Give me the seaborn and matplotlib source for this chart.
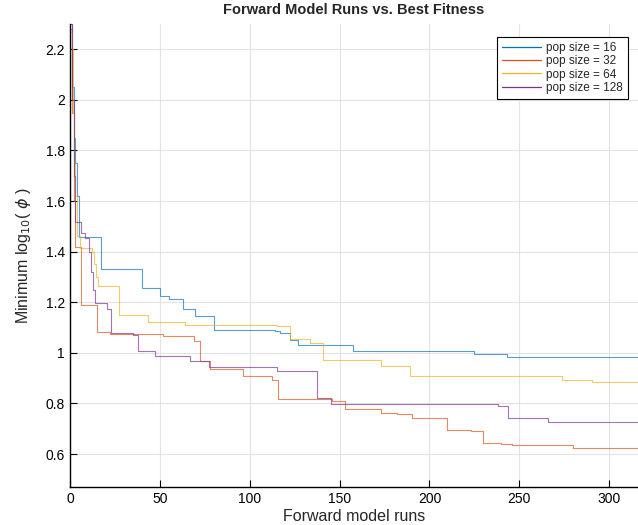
import numpy as np
import pandas as pd
import matplotlib
matplotlib.use('Agg')
import matplotlib.pyplot as plt
import seaborn as sns

# step points (x = forward model run, y = min log10(phi))
runs_16 = [0, 1, 2, 3, 4, 5, 17.5, 40, 50, 55, 63, 69.5, 80, 114, 117, 122.5, 127, 157.5, 225, 243, 316]
fit_16 = [2.3, 2.05, 1.85, 1.75, 1.62, 1.46, 1.333, 1.258, 1.225, 1.215, 1.172, 1.145, 1.092, 1.085, 1.078,
          1.05, 1.03, 1.009, 0.996, 0.985, 0.985]

runs_32 = [0, 1, 2, 3, 6, 15.3, 22.3, 52, 68.8, 72.5, 78, 96.3, 112.5, 115.6, 146, 153, 172.8, 182, 190.5,
           210, 223, 230, 240, 246, 280, 299, 316]
fit_32 = [2.28, 1.95, 1.6, 1.42, 1.19, 1.082, 1.075, 1.066, 1.046, 0.969, 0.937, 0.91, 0.894, 0.817, 0.808,
          0.779, 0.764, 0.758, 0.742, 0.696, 0.692, 0.643, 0.639, 0.635, 0.626, 0.623, 0.623]

runs_64 = [0, 1, 1.5, 2, 2.8, 3.7, 5.6, 12.5, 13.5, 14.5, 15.8, 27.5, 43.7, 64, 115, 122.3, 133.4, 141,
           172.8, 189, 274, 290.5, 316]
fit_64 = [2.27, 2.2, 1.95, 1.75, 1.62, 1.463, 1.413, 1.397, 1.35, 1.3, 1.266, 1.148, 1.121, 1.112, 1.108,
          1.053, 1.04, 0.973, 0.95, 0.91, 0.894, 0.885, 0.885]

runs_128 = [0, 1, 2, 2.8, 6, 8.4, 10.8, 12, 13, 14, 20.5, 23, 35.3, 38.1, 47.4, 67, 77.5, 115, 137.6, 145,
            238, 243.5, 266, 316]
fit_128 = [2.3, 2.0, 1.7, 1.516, 1.472, 1.456, 1.4, 1.32, 1.25, 1.196, 1.172, 1.077, 1.069, 1.009, 0.989,
           0.969, 0.944, 0.927, 0.82, 0.799, 0.792, 0.744, 0.728, 0.728]

labels = ['pop size = 16', 'pop size = 32', 'pop size = 64', 'pop size = 128']
colors = ['#0072BD', '#D95319', '#EDB120', '#7E2F8E']

frames = []
for lab, xs, ys in zip(labels, [runs_16, runs_32, runs_64, runs_128], [fit_16, fit_32, fit_64, fit_128]):
    frames.append(pd.DataFrame({'runs': xs, 'fit': ys, 'pop': lab}))
df = pd.concat(frames, ignore_index=True)

sns.set_style('ticks')
plt.rcParams['font.family'] = ['Liberation Sans', 'DejaVu Sans']

fig = plt.figure(figsize=(6.38, 5.25), dpi=100)
ax = fig.add_axes([0.1096, 0.0724, 0.8904, 0.8819])

sns.lineplot(data=df, x='runs', y='fit', hue='pop', palette=colors, sort=False, estimator=None,
             drawstyle='steps-post', linewidth=0.8, alpha=0.68, ax=ax)

ax.set_xlim(0, 316)
ax.set_ylim(0.47, 2.3)
ax.set_xticks([0, 50, 100, 150, 200, 250, 300])
ax.set_yticks([0.6, 0.8, 1.0, 1.2, 1.4, 1.6, 1.8, 2.0, 2.2])
ax.set_yticklabels(['0.6', '0.8', '1', '1.2', '1.4', '1.6', '1.8', '2', '2.2'])
ax.tick_params(direction='in', length=5, width=0.8, labelsize=10, colors='black')
ax.grid(True, color='#e3e3e3', linewidth=0.8)
ax.set_axisbelow(True)
for s in ['top', 'right']:
    ax.spines[s].set_visible(False)
for s in ['left', 'bottom']:
    ax.spines[s].set_linewidth(1.0)
    ax.spines[s].set_color('black')

ax.set_title('Forward Model Runs vs. Best Fitness', fontsize=10.5, fontweight='bold', pad=7)
ax.set_xlabel('Forward model runs', fontsize=11.5, labelpad=2)
ax.set_ylabel(r'Minimum log$_{10}$( $\phi$ )', fontsize=11.5, labelpad=9)

leg = ax.legend(loc='upper right', bbox_to_anchor=(0.982, 0.972), fontsize=8.5, frameon=True,
                fancybox=False, edgecolor='black', framealpha=1, handlelength=3.3,
                borderpad=0.4, labelspacing=0.12, handletextpad=0.45, borderaxespad=0)
leg.get_frame().set_linewidth(0.8)
for h in leg.get_lines():
    h.set_alpha(1)
    h.set_linewidth(0.9)

plt.savefig('out.png', dpi=100)
